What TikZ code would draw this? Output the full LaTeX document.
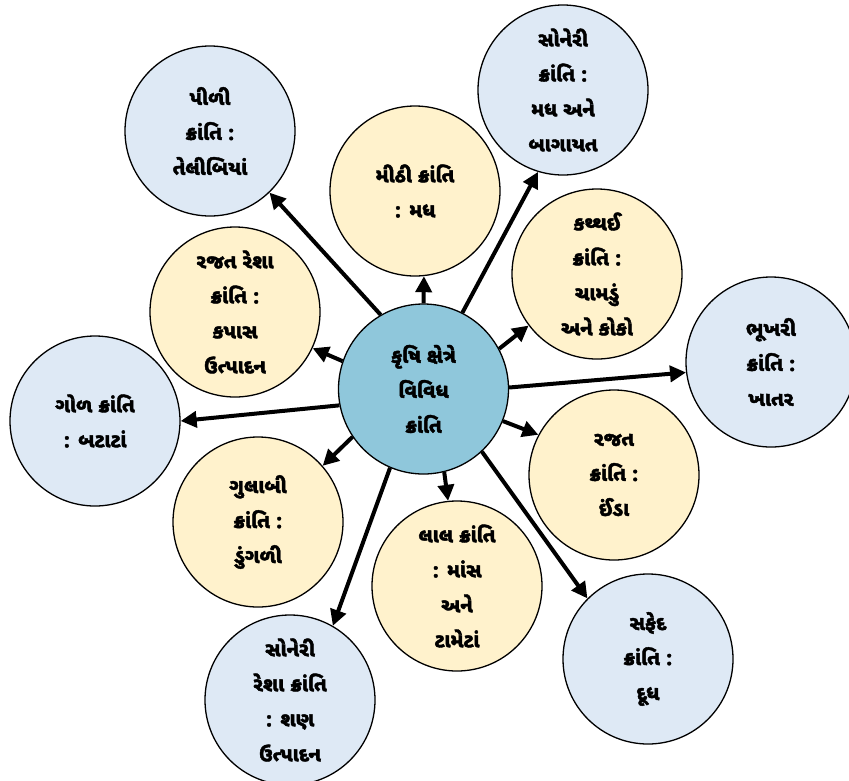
\documentclass[tikz,border=0pt]{standalone}
\usepackage{fontspec}
\usetikzlibrary{arrows.meta}
\newfontfamily\guj[Script=Gujarati,BoldFeatures={FakeBold=2}]{Noto Sans Gujarati UI}
\definecolor{bluefill}{RGB}{222,233,245}
\definecolor{yelfill}{RGB}{255,242,204}
\definecolor{centfill}{RGB}{143,199,219}
\tikzset{
  bubble/.style={circle, draw=black, line width=1.3pt, minimum size=170pt, inner sep=0pt},
  outerb/.style={bubble, fill=bluefill},
  innerb/.style={bubble, fill=yelfill},
  centreb/.style={bubble, fill=centfill},
  txt/.style={align=center, inner sep=0pt, text=black, font=\guj\bfseries\fontsize{20}{35}\selectfont},
  arr/.style={line width=4pt, -{Triangle[length=16pt,width=16pt]}}
}
\begin{document}
\begin{tikzpicture}[x=1pt,y=-1pt]
\useasboundingbox[fill=white] (0,0) rectangle (849,780);
% outer circles
\node[outerb, label={[txt]center:{પીળી\\ક્રાંતિ :\\તેલીબિયાં}}] (P1) at (210,131) {};
\node[outerb, label={[txt]center:{સોનેરી\\ક્રાંતિ :\\મધ અને\\બાગાયત}}] (S1) at (563,90) {};
\node[outerb, label={[txt]center:{ભૂખરી\\ક્રાંતિ :\\ખાતર}}] (B) at (771,362) {};
\node[outerb, label={[txt]center:{ગોળ ક્રાંતિ\\: બટાટાં}}] (G) at (95,421) {};
\node[outerb, label={[txt]center:{સોનેરી\\રેશા ક્રાંતિ\\: શણ\\ઉત્પાદન}}] (SR) at (290,700) {};
\node[outerb, label={[txt]center:{સફેદ\\ક્રાંતિ :\\દૂધ}}] (Sa) at (648,659) {};
% inner circles
\node[innerb, label={[txt]center:{મીઠી ક્રાંતિ\\: મધ}}] (M) at (415,191) {};
\node[innerb, label={[txt]center:{રજત રેશા\\ક્રાંતિ :\\કપાસ\\ઉત્પાદન}}] (RR) at (235,312) {};
\node[innerb, label={[txt]center:{કથ્થઈ\\ક્રાંતિ :\\ચામડું\\અને કોકો}}] (K) at (597,274) {};
\node[innerb, label={[txt]center:{રજત\\ક્રાંતિ :\\ઈંડા}}] (R) at (614,475) {};
\node[innerb, label={[txt]center:{ગુલાબી\\ક્રાંતિ :\\ડુંગળી}}] (Gu) at (258,522) {};
\node[innerb, label={[txt]center:{લાલ ક્રાંતિ\\: માંસ\\અને\\ટામેટાં}}] (L) at (457,586) {};
% centre
\node[centreb, label={[txt]center:{કૃષિ ક્ષેત્રે\\વિવિધ\\ક્રાંતિ}}] (C) at (423.5,389) {};
% arrows
\draw[arr] (C.120.5) -- (P1.-46);
\draw[arr] (C.90) -- (M.-84);
\draw[arr] (C.63.7) -- (S1.253);
\draw[arr] (C.28.8) -- (K.217.6);
\draw[arr] (C.1) -- (B.187.4);
\draw[arr] (C.-22.3) -- (R.152.5);
\draw[arr] (C.-47.1) -- (Sa.135.5);
\draw[arr] (C.-76.9) -- (L.96.8);
\draw[arr] (C.247) -- (SR.60.6);
\draw[arr] (C.214.6) -- (Gu.41.8);
\draw[arr] (C.191.2) -- (G.0.7);
\draw[arr] (C.161.5) -- (RR.-25.3);
\end{tikzpicture}
\end{document}
